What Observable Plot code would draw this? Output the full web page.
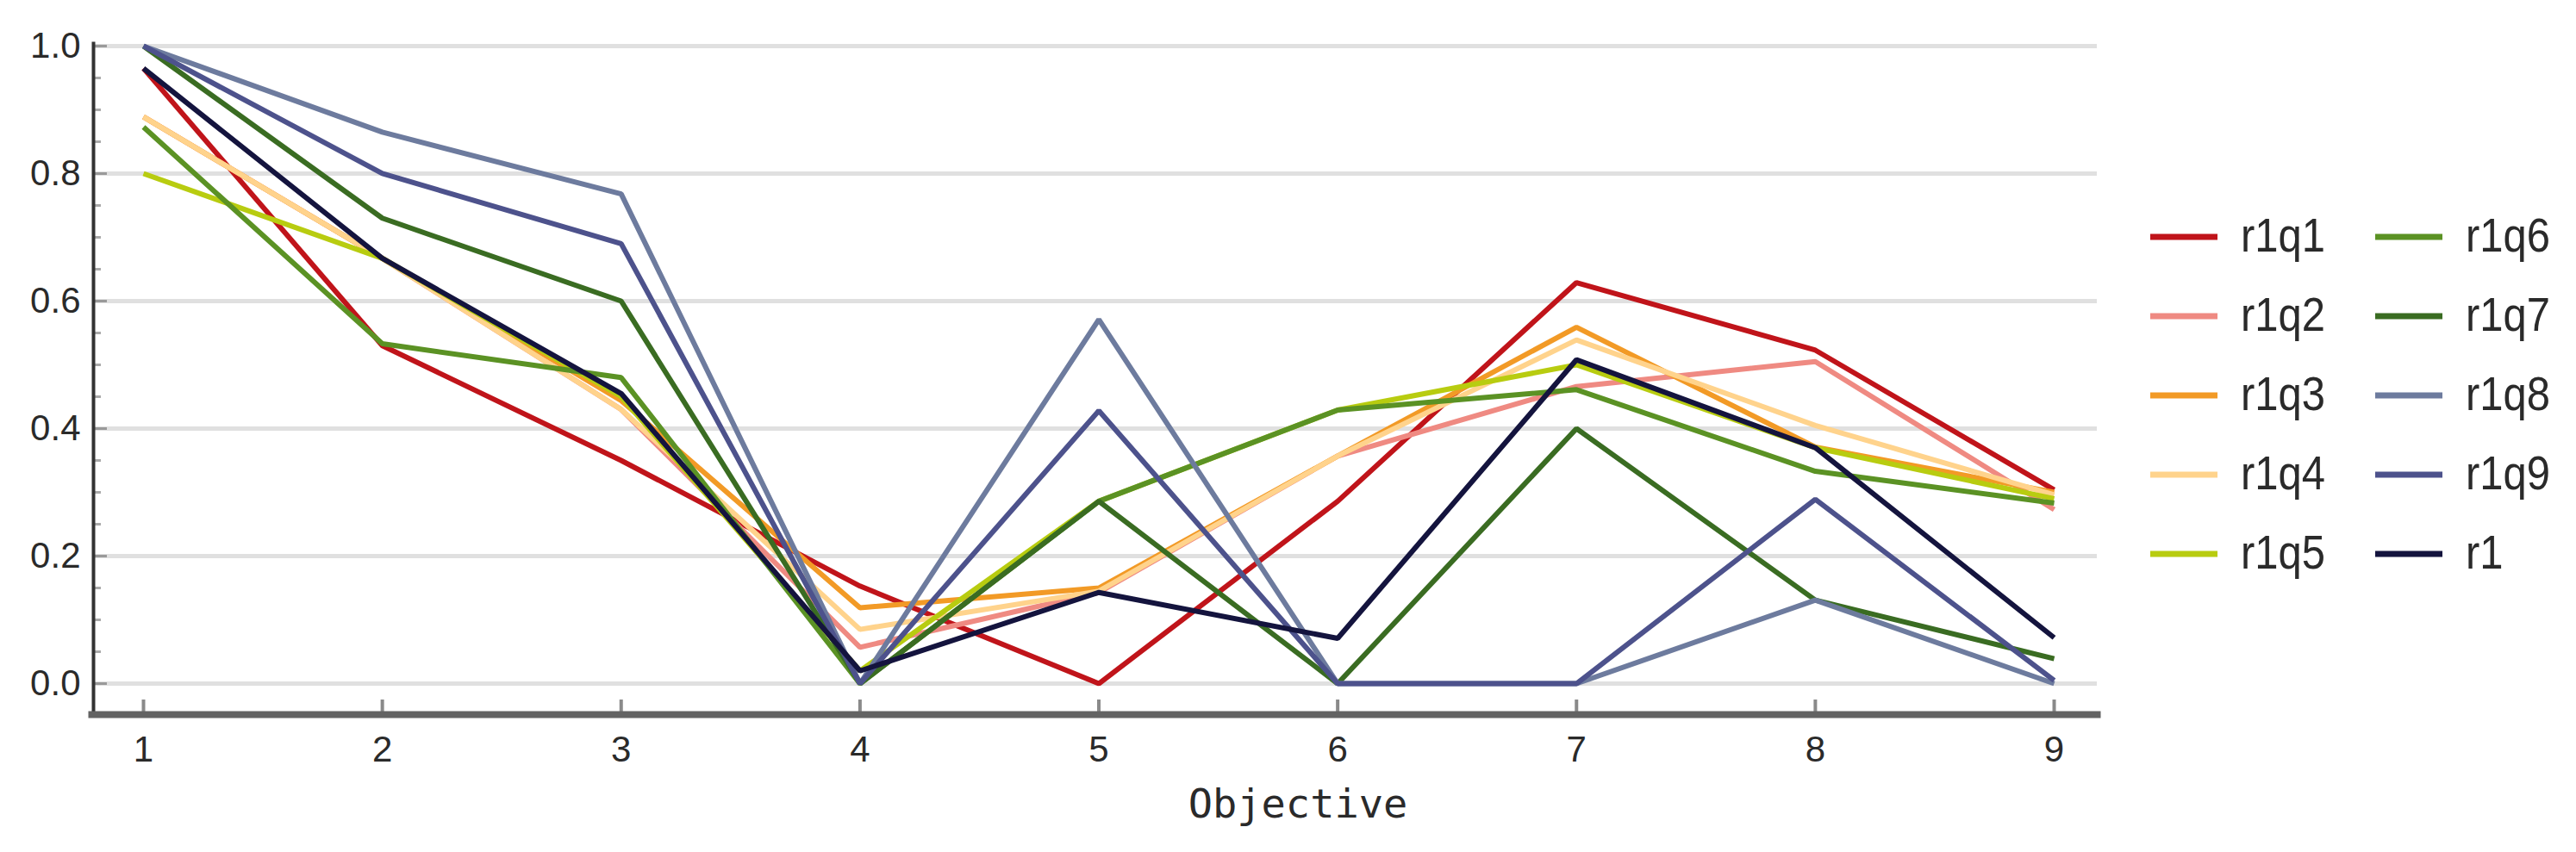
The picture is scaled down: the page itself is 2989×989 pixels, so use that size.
<!DOCTYPE html>
<html>
<head>
<meta charset="utf-8">
<script src="https://cdn.jsdelivr.net/npm/d3@7"></script>
<script src="https://cdn.jsdelivr.net/npm/@observablehq/plot@0.6"></script>
<style>
  html, body { margin: 0; padding: 0; background: #ffffff; }
  #chart svg { display: block; background: #ffffff; }
</style>
</head>
<body>
<div id="chart"></div>
<script>
// ---- data ----
const objectives = [1, 2, 3, 4, 5, 6, 7, 8, 9];
const seriesNames = ["r1q1", "r1q2", "r1q3", "r1q4", "r1q5", "r1q6", "r1q7", "r1q8", "r1q9", "r1"];
const seriesColors = ["#c0141a", "#ef8a82", "#f29a26", "#ffd38c", "#b8cc10", "#5b9224", "#3a6c22", "#6d7b9e", "#4d528c", "#14143e"];
const r1q1 = [0.965, 0.53, 0.35, 0.153, 0.0, 0.286, 0.629, 0.523, 0.304];
const r1q2 = [0.889, 0.667, 0.43, 0.057, 0.143, 0.357, 0.466, 0.505, 0.273];
const r1q3 = [0.889, 0.667, 0.444, 0.119, 0.15, 0.357, 0.559, 0.371, 0.30];
const r1q4 = [0.889, 0.667, 0.43, 0.085, 0.145, 0.357, 0.539, 0.405, 0.296];
const r1q5 = [0.80, 0.667, 0.45, 0.02, 0.286, 0.429, 0.50, 0.37, 0.29];
const r1q6 = [0.873, 0.533, 0.48, 0.0, 0.286, 0.429, 0.461, 0.333, 0.283];
const r1q7 = [1.0, 0.73, 0.60, 0.0, 0.286, 0.0, 0.40, 0.131, 0.039];
const r1q8 = [1.0, 0.865, 0.768, 0.0, 0.571, 0.0, 0.0, 0.131, 0.0];
const r1q9 = [1.0, 0.80, 0.69, 0.0, 0.428, 0.0, 0.0, 0.289, 0.005];
const r1 = [0.965, 0.667, 0.455, 0.02, 0.143, 0.071, 0.508, 0.37, 0.072];
const seriesValues = [r1q1, r1q2, r1q3, r1q4, r1q5, r1q6, r1q7, r1q8, r1q9, r1];
const xTicks = [1, 2, 3, 4, 5, 6, 7, 8, 9];
const yTicks = [0, 0.2, 0.4, 0.6, 0.8, 1.0];
const yMinorTicks = d3.range(0, 21).map(i => i * 0.05);
const xLabel = "Objective";

// long table built from the arrays
const rows = [];
seriesNames.forEach((name, i) => {
  seriesValues[i].forEach((v, j) => rows.push({series: name, objective: objectives[j], value: v}));
});

// ---- layout ----
const W = 2989, H = 989;
const mL = 108, mR = W - 2433, mT = 50, mB = H - 829;
const frameH = H - mT - mB;
const frameW = W - mL - mR;
const font = "'Liberation Sans', Arial, sans-serif";

const chart = Plot.plot({
  width: W,
  height: H,
  marginLeft: mL,
  marginRight: mR,
  marginTop: mT,
  marginBottom: mB,
  style: {background: "#ffffff", fontFamily: font},
  x: {domain: [0.7907, 9.1804]},
  y: {domain: [-0.0486, 1.004]},
  color: {domain: seriesNames, range: seriesColors},
  marks: [
    Plot.ruleY(yTicks, {stroke: "#e0e0e0", strokeWidth: 5}),
    Plot.tickY(yMinorTicks, {y: d => d, insetRight: frameW - 9, stroke: "#aaaaaa", strokeWidth: 3}),
    Plot.tickY(yTicks, {y: d => d, insetRight: frameW - 16, stroke: "#999999", strokeWidth: 3}),
    Plot.tickX(xTicks, {x: d => d, insetTop: frameH - 17, stroke: "#8a8a8a", strokeWidth: 4}),
    Plot.axisY({ticks: yTicks, tickSize: 0, tickPadding: 15, tickFormat: d3.format(".1f"), fontSize: 42, label: null, fill: "#2a2a2a"}),
    Plot.axisX({ticks: xTicks, tickSize: 0, tickPadding: 25, tickFormat: d3.format("d"), fontSize: 42, label: null, fill: "#2a2a2a"}),
    Plot.line(rows, {x: "objective", y: "value", stroke: "series", z: "series", strokeWidth: 6, strokeLinejoin: "miter", strokeLinecap: "butt"}),
    Plot.frame({anchor: "left", stroke: "#333333", strokeWidth: 4}),
    Plot.frame({anchor: "bottom", stroke: "#636363", strokeWidth: 8, insetLeft: -2}),
    Plot.text([xLabel], {text: d => d, frameAnchor: "bottom", dx: 235, dy: 119, fontFamily: "'DejaVu Sans Mono', monospace", fontSize: 47, fill: "#2a2a2a"})
  ]
});
document.getElementById("chart").appendChild(chart);

// ---- legend (inside the svg, right of the frame) ----
const svg = d3.select(chart);
const legend = svg.append("g").attr("class", "legend").attr("text-anchor", "start");
const rowsPerCol = 5, rowTop = 275, rowStep = 92;
const colX = [2495, 2756];
const swatchLen = 78, textGap = 27;
seriesNames.forEach((name, i) => {
  const col = Math.floor(i / rowsPerCol), r = i % rowsPerCol;
  const x0 = colX[col], y0 = rowTop + r * rowStep;
  legend.append("line")
    .attr("x1", x0).attr("x2", x0 + swatchLen)
    .attr("y1", y0).attr("y2", y0)
    .attr("stroke", seriesColors[i]).attr("stroke-width", 7);
  legend.append("text")
    .attr("transform", `translate(${x0 + swatchLen + textGap},${y0 + 17}) scale(1,1.12)`)
    .attr("text-anchor", "start")
    .attr("font-family", font)
    .attr("font-size", 49)
    .attr("fill", "#2a2a2a")
    .text(name);
});
</script>
</body>
</html>
